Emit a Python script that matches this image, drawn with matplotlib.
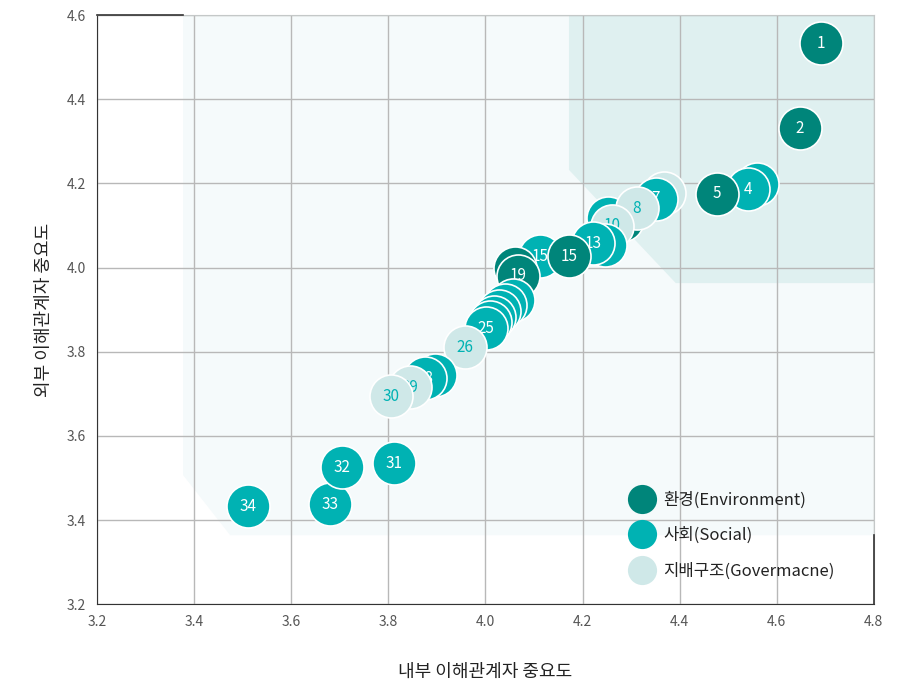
import matplotlib.pyplot as plt
from matplotlib.patches import Polygon
from matplotlib.lines import Line2D

plt.rcParams['font.family'] = ['Noto Sans CJK KR', 'DejaVu Sans']

# issues in drawing order (later ones sit on top); '' = number hidden behind other bubbles
labels = ['1', '2', '', '4', '5', '', '', '', '7', '8', '10', '', '13', '15', '15',
          '', '19', '', '', '', '', '', '25', '26', '', '28', '29', '30',
          '31', '33', '32', '34']
internal = [4.691, 4.648, 4.559, 4.541, 4.477, 4.281, 4.252, 4.368, 4.351, 4.312, 4.261,
            4.246, 4.221, 4.112, 4.172, 4.061, 4.067, 4.057, 4.040, 4.028, 4.018, 4.009,
            4.001, 3.958, 3.896, 3.875, 3.845, 3.805, 3.812, 3.680, 3.705, 3.511]
external = [4.533, 4.331, 4.198, 4.186, 4.175, 4.113, 4.118, 4.177, 4.163, 4.141, 4.099,
            4.053, 4.058, 4.027, 4.027, 3.999, 3.980, 3.923, 3.911, 3.896, 3.882, 3.870,
            3.856, 3.811, 3.744, 3.737, 3.716, 3.694, 3.535, 3.438, 3.526, 3.433]
category = ['E', 'E', 'S', 'S', 'E', 'E', 'S', 'G', 'S', 'G', 'G', 'S', 'S', 'S', 'E',
            'E', 'E', 'S', 'S', 'S', 'S', 'S', 'S', 'G', 'S', 'S', 'G', 'G',
            'S', 'S', 'S', 'S']

legend_names = ['환경(Environment)', '사회(Social)', '지배구조(Govermacne)']
colors = {'E': '#00857a', 'S': '#00b2b3', 'G': '#cfe8e8'}
text_colors = {'E': 'white', 'S': 'white', 'G': '#00b2b3'}

fig = plt.figure(figsize=(9.16, 6.82), dpi=100)
ax = fig.add_axes([0.106, 0.114, 0.848, 0.864])
ax.set_xlim(3.2, 4.8)
ax.set_ylim(3.2, 4.6)

# background zones
light = Polygon([(3.377, 4.6), (4.8, 4.6), (4.8, 3.364), (3.474, 3.364), (3.377, 3.507)],
                closed=True, facecolor='#f5fafb', edgecolor='none', zorder=0.2)
dark = Polygon([(4.172, 4.6), (4.8, 4.6), (4.8, 3.963), (4.392, 3.963), (4.172, 4.232)],
               closed=True, facecolor='#dff0f0', edgecolor='none', zorder=0.3)
ax.add_patch(light)
ax.add_patch(dark)

ax.set_axisbelow(True)
ax.grid(True, color='#b8b8b8', linewidth=1)
ax.set_xticks([3.2, 3.4, 3.6, 3.8, 4.0, 4.2, 4.4, 4.6, 4.8])
ax.set_yticks([3.2, 3.4, 3.6, 3.8, 4.0, 4.2, 4.4, 4.6])
ax.set_xticklabels(['3.2', '3.4', '3.6', '3.8', '4.0', '4.2', '4.4', '4.6', '4.8'])
ax.set_yticklabels(['3.2', '3.4', '3.6', '3.8', '4.0', '4.2', '4.4', '4.6'])
ax.tick_params(length=0, labelsize=10, labelcolor='#555555', pad=8)

for side in ['left', 'bottom']:
    ax.spines[side].set_color('#333333')
for side in ['top', 'right']:
    ax.spines[side].set_color('#c4c8c8')
ax.plot([3.2, 3.377], [4.6, 4.6], color='#333333', lw=1.2, clip_on=False, zorder=2.6)
ax.plot([4.8, 4.8], [3.2, 3.364], color='#333333', lw=1.2, clip_on=False, zorder=2.6)

# bubbles
for i in range(len(labels)):
    c = category[i]
    ax.scatter(internal[i], external[i], s=960, color=colors[c], edgecolor='white',
               linewidth=1.2, zorder=3 + i, clip_on=False)
    if labels[i]:
        ax.text(internal[i], external[i], labels[i], color=text_colors[c], fontsize=11,
                ha='center', va='center', zorder=3.5 + i)

handles = [Line2D([], [], marker='o', linestyle='none', markersize=21,
                  markerfacecolor=colors[k], markeredgecolor='none') for k in ['E', 'S', 'G']]
ax.legend(handles, legend_names, loc='upper left', bbox_to_anchor=(0.68, 0.192),
          borderpad=0, borderaxespad=0, frameon=False, fontsize=12,
          labelspacing=1.1, handletextpad=0.3, labelcolor='#222222')

ax.set_xlabel('내부 이해관계자 중요도', fontsize=13, color='#222222', labelpad=24)
ax.set_ylabel('외부 이해관계자 중요도', fontsize=13, color='#222222', labelpad=10)

fig.savefig('out.png', dpi=100)
